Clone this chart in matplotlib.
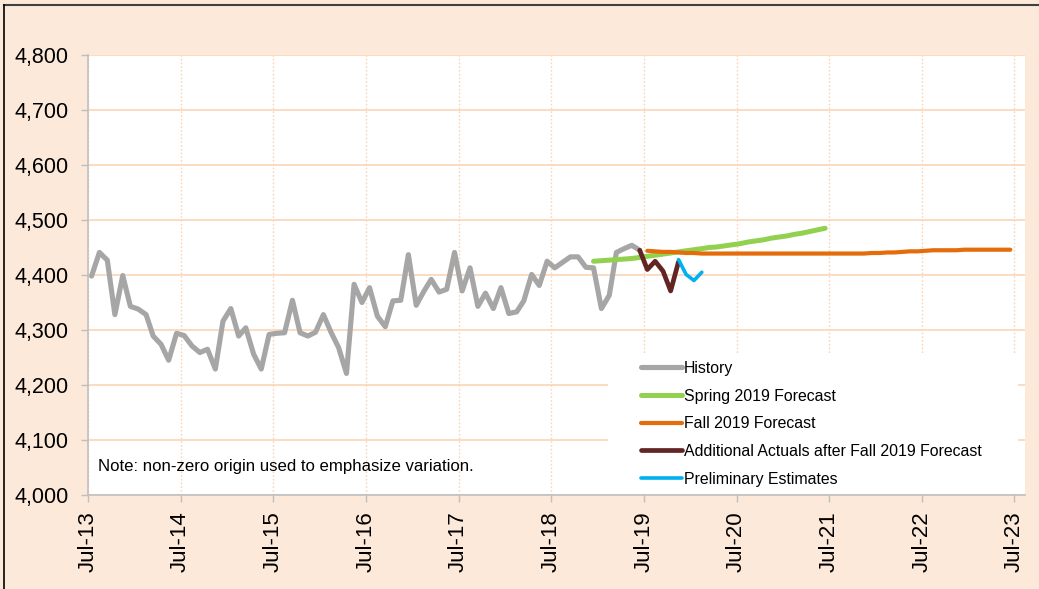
import matplotlib
matplotlib.use("Agg")
import matplotlib.pyplot as plt
import pandas as pd
from matplotlib.lines import Line2D
from matplotlib.patches import Rectangle

plt.rcParams['font.family'] = ['Liberation Sans', 'DejaVu Sans']

# monthly values, Jul-13 .. Jun-19
history = [4398, 4441, 4427, 4328, 4399, 4343,
           4338, 4328, 4289, 4274, 4245, 4294,
           4290, 4271, 4259, 4265, 4229, 4316,
           4339, 4289, 4304, 4256, 4229, 4292,
           4294, 4295, 4354, 4295, 4289, 4296,
           4328, 4295, 4268, 4221, 4383, 4350,
           4377, 4325, 4306, 4353, 4354, 4437,
           4345, 4371, 4392, 4369, 4374, 4441,
           4371, 4413, 4343, 4367, 4339, 4377,
           4330, 4333, 4353, 4401, 4381, 4425,
           4413, 4423, 4433, 4433, 4414, 4413,
           4339, 4363, 4441, 4448, 4454, 4445]
history_start = '2013-07-01'

# Dec-18 .. Jun-21
spring = [4425, 4426, 4427, 4428, 4429, 4430, 4432,
          4434, 4436, 4438, 4440, 4442, 4444,
          4446, 4448, 4450, 4451, 4453, 4455,
          4457, 4460, 4462, 4464, 4467, 4469,
          4471, 4474, 4476, 4479, 4482, 4485]
spring_start = '2018-12-01'

# Jul-19 .. Jun-23
fall = [4444, 4443, 4442, 4442, 4441, 4440, 4440, 4439, 4439, 4439, 4439, 4439,
        4439, 4439, 4439, 4439, 4439, 4439, 4439, 4439, 4439, 4439, 4439, 4439,
        4439, 4439, 4439, 4439, 4439, 4440, 4440, 4441, 4441, 4442, 4443, 4443,
        4444, 4445, 4445, 4445, 4445, 4446, 4446, 4446, 4446, 4446, 4446, 4446]
fall_start = '2019-07-01'

# Jun-19 .. Nov-19
actuals = [4445, 4410, 4425, 4407, 4371, 4424]
actuals_start = '2019-06-01'

# Nov-19 .. Feb-20
prelim = [4428, 4401, 4390, 4405]
prelim_start = '2019-11-01'

tick_years = list(range(2013, 2024))
tick_labels = ['Jul-%02d' % (y % 100) for y in tick_years]


def months(start, n):
    # points sit mid-month on the date axis
    return pd.date_range(start, periods=n, freq='MS') + pd.Timedelta(days=14)


W, H = 1039, 589
fig = plt.figure(figsize=(W / 100, H / 100), dpi=100, facecolor='#FDE9D9')
ax = fig.add_axes([88 / W, 1 - 495 / H, 937 / W, 440 / H])
ax.set_facecolor('white')

grid_c = '#FCD5B4'
ax.plot(months(history_start, len(history)), history, color='#A6A6A6', lw=3.7,
        label='History', solid_capstyle='round', solid_joinstyle='round', zorder=3)
ax.plot(months(spring_start, len(spring)), spring, color='#92D050', lw=3.6,
        label='Spring 2019 Forecast', solid_capstyle='round', zorder=3)
ax.plot(months(fall_start, len(fall)), fall, color='#E46C0A', lw=3.0,
        label='Fall 2019 Forecast', solid_capstyle='round', zorder=3)
ax.plot(months(actuals_start, len(actuals)), actuals, color='#632523', lw=3.4,
        label='Additional Actuals after Fall 2019 Forecast',
        solid_capstyle='round', solid_joinstyle='round', zorder=4)
ax.plot(months(prelim_start, len(prelim)), prelim, color='#00B0F0', lw=2.6,
        label='Preliminary Estimates', solid_capstyle='round', zorder=4)

ax.set_ylim(4000, 4800)
ax.set_yticks(range(4000, 4801, 100))
ax.set_yticklabels(['{:,}'.format(v) for v in range(4000, 4801, 100)])
ticks = [pd.Timestamp('%d-07-01' % y) for y in tick_years]
ax.set_xticks(ticks)
ax.set_xticklabels(tick_labels, rotation=90)
ax.set_xlim(pd.Timestamp('2013-07-01'), pd.Timestamp('2023-08-12'))

ax.grid(axis='y', color=grid_c, lw=1.2, ls='-', zorder=0)
ax.grid(axis='x', color=grid_c, lw=1.0, ls=(0, (1.2, 1.5)), zorder=0)

for s in ['top', 'right']:
    ax.spines[s].set_visible(False)
for s in ['left', 'bottom']:
    ax.spines[s].set_color('#BFBFBF')
    ax.spines[s].set_linewidth(1.2)
ax.tick_params(axis='y', colors='#BFBFBF', labelcolor='black', labelsize=15.5,
               length=5, width=1, pad=9)
ax.tick_params(axis='x', colors='#BFBFBF', labelcolor='black', labelsize=16,
               length=5, width=1, pad=7)

# white panel behind the legend
ax.add_patch(Rectangle(((608 - 88) / 937, (495 - 493) / 440), 410 / 937, 140 / 440,
                       transform=ax.transAxes, facecolor='white', edgecolor='none',
                       zorder=2))
leg = ax.legend(loc='upper left', bbox_to_anchor=((641 - 88) / 937, (495 - 361) / 440),
                frameon=False, fontsize=11.4, handlelength=2.6, handletextpad=0.12,
                labelspacing=0.8, borderpad=0, borderaxespad=0)
leg.set_zorder(5)

ax.text(10 / 937, (495 - 466) / 440,
        'Note: non-zero origin used to emphasize variation.',
        transform=ax.transAxes, fontsize=12.1, va='center', ha='left', zorder=5)

# chart border (top and left edges)
fig.add_artist(Line2D([4 / W, 1], [1 - 4.5 / H, 1 - 4.5 / H], color='#404040', lw=1.5))
fig.add_artist(Line2D([4 / W, 4 / W], [0, 1 - 4.5 / H], color='black', lw=1.2))

fig.savefig('out.png', dpi=100, facecolor=fig.get_facecolor())
